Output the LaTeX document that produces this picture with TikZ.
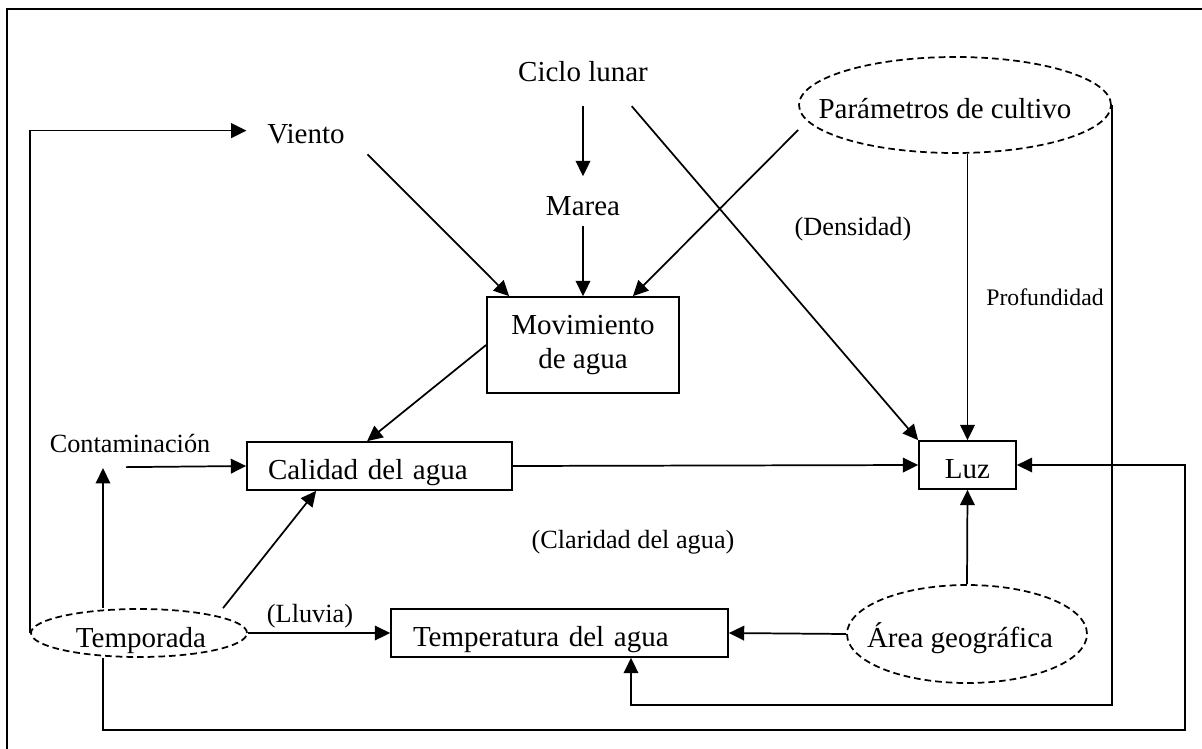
\documentclass[tikz,border=0pt]{standalone}
\usepackage{fontspec}
\setmainfont{Liberation Serif}
\usetikzlibrary{shapes.geometric,arrows.meta,calc}
\begin{document}
\begin{tikzpicture}[x=0.75pt,y=-0.75pt,
  line width=1.3pt,
  arr/.style={-{Triangle[length=11.5pt,width=11pt]}},
  big/.style={font=\fontsize{21.75}{25}\selectfont},
  mid/.style={font=\fontsize{19.7}{23}\selectfont},
  small/.style={font=\fontsize{17.8}{21}\selectfont},
  txt/.style={inner sep=0pt, anchor=base},
  box/.style={draw, rectangle, big, inner ysep=0pt, minimum height=36pt, text height=19.5pt, text depth=0pt},
  dell/.style={draw, ellipse, dash pattern=on 5pt off 3pt, inner sep=0pt}
]
\useasboundingbox (0,0) rectangle (1202,749);
\draw[line width=1.6pt] (7,770) -- (7,9) -- (1220,9);

% boxes
\node[draw, big, align=center, minimum width=144pt, minimum height=72pt, inner sep=0pt] (mov) at (583,345) {Movimiento\\de agua};
\node[box, align=left, inner xsep=15.75pt, text width=167.25pt] (cal) at (379.5,466) {Calidad del agua};
\node[box, align=left, inner xsep=16.5pt, text width=219.75pt] (tem) at (559.5,633) {Temperatura del agua};
\node[box, minimum width=72.75pt, inner xsep=0pt] (luz) at (967.5,465) {Luz};

% ellipses
\node[dell, minimum width=234pt, minimum height=72pt] (par) at (955,105) {};
\node[txt, big] (parlab) at (945,118) {Parámetros de cultivo};
\node[dell, minimum width=162pt, minimum height=36pt] (tempo) at (139,633) {};
\node[txt, big] (tempolab) at (141,647) {Temporada};
\node[dell, minimum width=180pt, minimum height=73.5pt] (area) at (967,634) {};
\node[txt, big] (arealab) at (960,647) {Área geográfica};

% plain texts
\node[txt, big] (viento) at (306,143) {Viento};
\node[txt, big] (ciclo) at (583,82) {Ciclo lunar};
\node[txt, big] (marea) at (583,215) {Marea};
\node[txt, mid] (contam) at (130,452) {Contaminación};
\node[txt, mid] (dens) at (853,235) {(Densidad)};
\node[txt, small] (prof) at (1045,305) {Profundidad};
\node[txt, mid] (clar) at (633,548) {(Claridad del agua)};
\node[txt, mid] (lluv) at (310,622) {(Lluvia)};

% connectors
\draw[arr] (tempo.west) |- ($(viento.west)+(-20,-3)$);
\draw[arr] ($(viento.south east)+(22,10)$) -- ($(mov.north west)+(23,0)$);
\draw[arr] ($(ciclo.south)+(0,23)$) -- ($(marea.north)+(0,-19)$);
\draw[arr] ($(marea.south)+(0,10)$) -- (mov.north);
\draw[arr] ($(par.west)+(0,25)$) -- ($(mov.north east)+(-47,0)$);
\draw[arr] ($(ciclo.south east)+(-17,23)$) -- (luz.north west);
\draw[arr] (par.south -| luz.north) -- (luz.north);
\draw[arr] (par.east) -- ++(0,600) -| ($(tem.south)+(71.5,0)$);
\draw[arr] ($(tempo.south)+(-36,0)$) -- ++(0,72) -| ($(luz.east)+(168,0)$) -- (luz.east);
\draw[arr] ($(contam.south)+(-4,14)$) -- (cal.west);
\draw[arr] ($(tempo.north)+(-36,0)$) -- ($(contam.south)+(-27,15)$);
\draw[arr] ($(tempo.north)+(84,0)$) -- ($(cal.south west)+(70,0)$);
\draw[arr] (mov.west) -- ($(cal.north west)+(121,0)$);
\draw[arr] (cal.east) -- (luz.west);
\draw[arr] (tempo.east) -- (tem.west);
\draw[arr] (area.west) -- (tem.east);
\draw[arr] (area.north) -- (luz.south);
\end{tikzpicture}
\end{document}
